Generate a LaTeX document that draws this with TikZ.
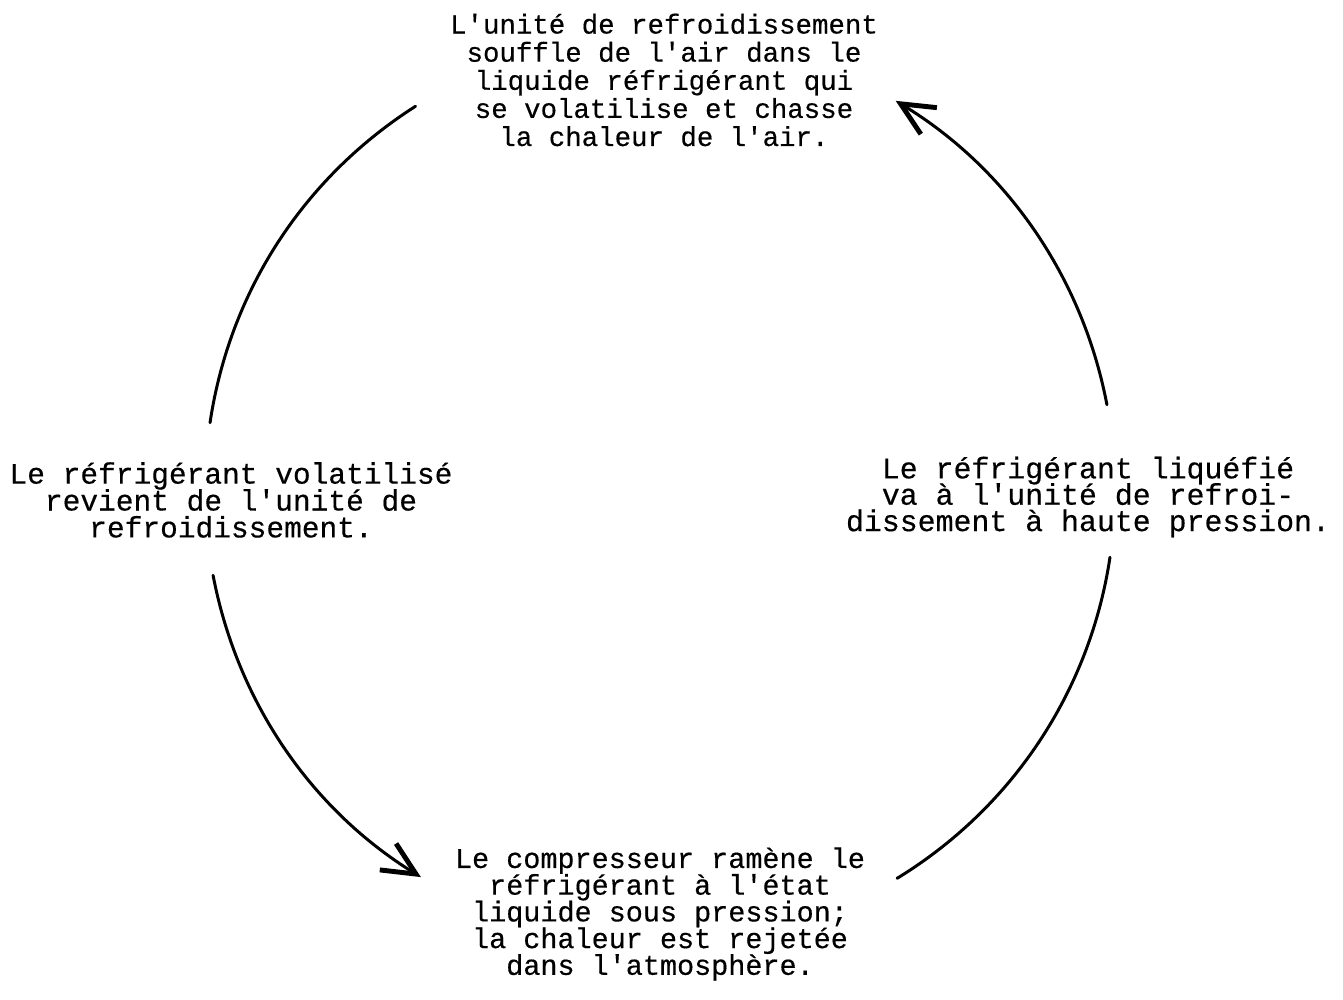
\documentclass[tikz,border=0pt]{standalone}
\usepackage{fontspec}
\setmonofont{Liberation Mono}[UprightFeatures={FakeBold=0.4}]
\usepackage{tikz}
\usetikzlibrary{arrows.meta, positioning}
\lineskiplimit=-10pt
\tikzstyle{note}  = [align=center, inner sep=0pt, text=black]
\tikzstyle{ring}  = [line width=0.85pt, line cap=round, looseness=0.9]
\tikzstyle{arrow} = [ring, -{Straight Barb[length=3.3mm, width=3.1mm, line width=1.4pt]}]

\begin{document}
\begin{tikzpicture}
  \useasboundingbox (0,0) rectangle (13.43,-9.99);

  \node[note, font=\ttfamily\fontsize{7.8}{8.0}\selectfont] (cool) at (6.64,-0.8) {
    L'unité de refroidissement\\
    souffle de l'air dans le\\
    liquide réfrigérant qui\\
    se volatilise et chasse\\
    la chaleur de l'air.};

  \node[note, font=\ttfamily\fontsize{8.4}{7.65}\selectfont] (vap) at (2.31,-5.0) {
    Le réfrigérant volatilisé\\
    revient de l'unité de\\
    refroidissement.};

  \node[note, font=\ttfamily\fontsize{8.5}{7.5}\selectfont] (liq) at (10.88,-4.97) {
    Le réfrigérant liquéfié\\
    va à l'unité de refroi-\\
    dissement à haute pression.};

  \node[note, font=\ttfamily\fontsize{8.1}{7.6}\selectfont] (comp) at (6.6,-9.14) {
    Le compresseur ramène le\\
    réfrigérant à l'état\\
    liquide sous pression;\\
    la chaleur est rejetée\\
    dans l'atmosphère.};

  % points on the loop
  \coordinate (hub) at (6.6,-4.9);
  \coordinate (vap-out)  at ([shift={(190.8:4.55)}]hub);
  \coordinate (comp-in)  at ([shift={(238.3:4.55)}]hub);
  \coordinate (comp-out) at ([shift={(301.4:4.55)}]hub);
  \coordinate (liq-in)   at ([shift={(351.5:4.55)}]hub);
  \coordinate (liq-out)  at ([shift={(10.8:4.55)}]hub);
  \coordinate (cool-in)  at ([shift={(58.8:4.55)}]hub);
  \coordinate (cool-out) at ([shift={(122.5:4.55)}]hub);
  \coordinate (vap-in)   at ([shift={(171.5:4.55)}]hub);

  \draw[arrow] (vap-out) to[bend right=23.75] (comp-in);
  \draw[ring] (comp-out) to[bend right=25] (liq-in);
  \draw[arrow] (liq-out) to[bend right=24] (cool-in);
  \draw[ring] (cool-out) to[bend right=24.5] (vap-in);
\end{tikzpicture}
\end{document}
